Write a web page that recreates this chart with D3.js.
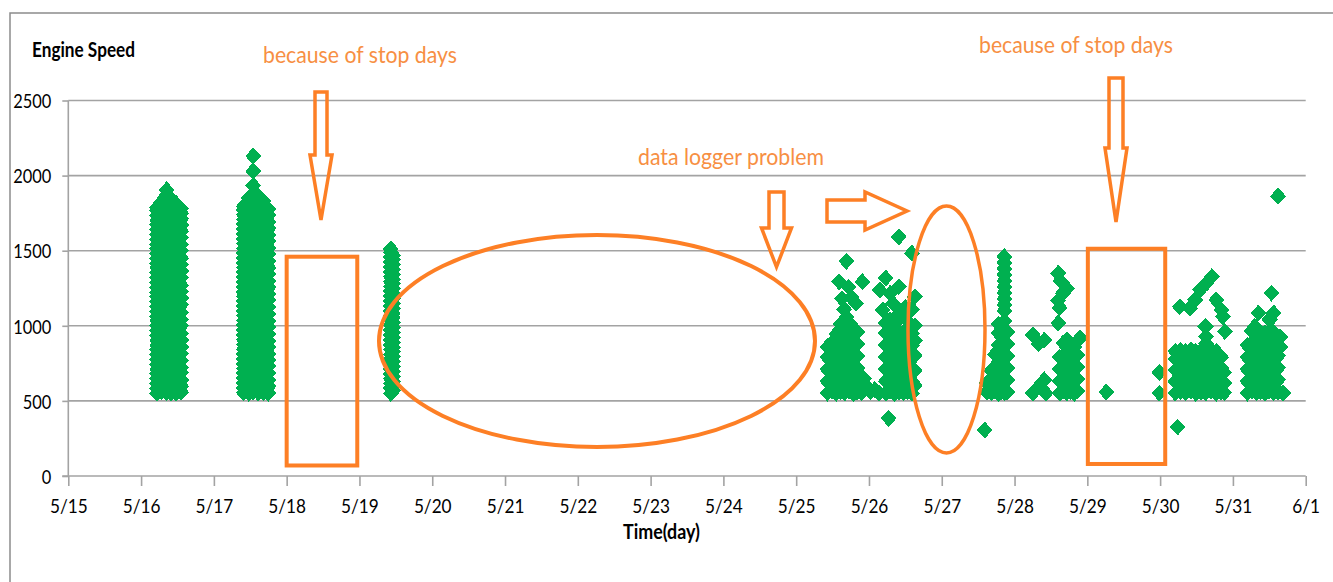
<!DOCTYPE html>
<html><head><meta charset="utf-8">
<script src="https://cdn.jsdelivr.net/npm/d3@7"></script>
<style>body{margin:0;background:#fff} svg{display:block}</style>
</head><body><svg id="c" width="1333" height="582"></svg>
<script>
// ---------- axis ticks ----------
const dayTicks = [15,16,17,18,19,20,21,22,23,24,25,26,27,28,29,30,31,32];
const dayTickLabels = ["5/15","5/16","5/17","5/18","5/19","5/20","5/21","5/22","5/23","5/24","5/25","5/26","5/27","5/28","5/29","5/30","5/31","6/1"];
const speedTicks = [0,500,1000,1500,2000,2500];

// ---------- engine speed readings (day of May, rpm) ----------
const may16Times = [16.22, 16.28, 16.35, 16.41, 16.48, 16.55];
const may16Speeds = [
 [552,585,616,649,680,712,745,776,808,841,872,905,936,968,1001,1032,1064,1097,1128,1160,1193,1224,1256,1289,1320,1352,1385,1416,1448,1481,1512,1544,1577,1608,1640,1673,1704,1736,1768,1790],
 [560,630,690,748,812,870,932,990,1050,1112,1170,1231,1290,1350,1410,1468,1530,1590,1648,1705,1768,1826],
 [555,615,680,740,800,860,921,985,1045,1103,1166,1225,1285,1345,1404,1466,1525,1586,1645,1708,1770,1830,1872,1905],
 [551,620,684,742,806,866,927,990,1052,1110,1172,1236,1296,1357,1418,1478,1540,1600,1662,1722,1782,1845],
 [553,612,676,738,795,857,918,980,1038,1099,1160,1222,1281,1343,1402,1462,1523,1584,1643,1700,1760,1815],
 [558,598,640,690,722,770,815,858,905,948,1000,1043,1090,1140,1185,1228,1270,1322,1365,1408,1450,1502,1540,1588,1630,1672,1712,1750,1780]
];
const may17Times = [17.41, 17.48, 17.54, 17.61, 17.68, 17.75];
const may17Speeds = [
 [555,588,620,651,684,716,747,780,812,843,876,908,939,972,1004,1035,1068,1100,1131,1164,1196,1227,1260,1292,1323,1356,1388,1419,1452,1484,1515,1548,1580,1611,1644,1676,1707,1740,1770,1795],
 [550,612,676,738,800,862,925,988,1050,1112,1175,1237,1300,1362,1424,1486,1548,1610,1672,1735,1796,1850],
 [560,622,684,746,808,870,932,994,1056,1118,1180,1242,1304,1366,1428,1490,1552,1614,1676,1738,1800,1860,1935,2030,2130],
 [553,615,678,740,802,864,926,988,1050,1112,1174,1236,1298,1360,1422,1484,1546,1608,1670,1732,1794,1862],
 [557,620,682,744,806,868,930,992,1054,1116,1178,1240,1302,1364,1426,1488,1550,1612,1674,1736,1796,1830],
 [552,596,640,684,730,772,815,858,900,946,990,1034,1080,1126,1170,1212,1255,1300,1345,1388,1430,1476,1520,1562,1605,1648,1690,1735,1775]
];
const may19Times = [19.43, 19.46];
const may19Speeds = [
 [550,584,615,648,680,712,745,777,809,842,874,906,939,971,1003,1036,1068,1100,1133,1165,1197,1230,1262,1294,1327,1359,1391,1424,1456,1488,1512],
 [568,600,632,664,697,729,761,794,826,858,891,923,955,988,1020,1052,1085,1117,1149,1182,1214,1246,1279,1311,1343,1376,1408,1440,1470]
];
const may25Times = [25.43, 25.49, 25.55, 25.61, 25.67, 25.73, 25.79, 25.84];
const may25Speeds = [
 [552,630,710,790,860],
 [565,645,725,805,885],
 [550,625,705,785,865,945],
 [560,640,720,800,880,960,1010],
 [555,635,715,795,875,955],
 [565,645,725,805,885,965,1020],
 [550,630,710,790,870,950],
 [560,640,720,800,880,960]
];
const may26Times = [26.23, 26.29, 26.35, 26.41, 26.47, 26.53, 26.59, 26.63];
const may26Speeds = [
 [552,630,710,790,870,950,1020,1318],
 [565,645,725,805,885,965,1040,1216],
 [550,625,705,785,865,945,1010],
 [560,640,720,800,880,960,1082,1260,1592],
 [555,635,715,795,875,955],
 [565,645,725,805,885,965,1030],
 [550,630,710,790,870,950,1110,1483],
 [600,700,800,900,1000,1193]
];
const may27Times = [27.62, 27.68, 27.73, 27.78, 27.82, 27.86, 27.90];
const may27Speeds = [
 [560,620],
 [555,640,700],
 [565,650,730,810],
 [550,630,710,790,870,950,1010],
 [565,645,725,805,885,965],
 [555,635,715,795,875,955,1030,1100,1140,1180,1220,1260,1300,1340,1380,1420,1460],
 [560,640,720,800,880,960]
];
const may28Times = [28.62, 28.67, 28.72, 28.77, 28.82, 28.86];
const may28Speeds = [
 [552,630,710,790],
 [565,645,725,805,885],
 [555,635,715,795,875,905],
 [560,640,720,800,880],
 [550,630,710,790,860],
 [565,645,725,805]
];
const may30Times = [30.21, 30.28, 30.35, 30.42, 30.49, 30.56, 30.63, 30.70, 30.77, 30.84, 30.88];
const may30Speeds = [
 [552,630,705,780,830],
 [560,640,715,790,835],
 [555,625,700,775,830],
 [565,645,720,795,840],
 [550,630,705,785,830],
 [560,635,715,790,835],
 [555,640,720,800,830,880,930,995],
 [565,630,710,785,840],
 [550,625,700,780,830],
 [560,640,720,790],
 [555,620,690]
];
const may31Times = [31.20, 31.26, 31.32, 31.38, 31.44, 31.50, 31.56, 31.62];
const may31Speeds = [
 [552,630,710,790,870],
 [565,645,725,805,885,965],
 [555,635,715,795,875,955],
 [560,640,720,800,880],
 [550,630,710,790,870,950],
 [565,645,725,805,885,965,1040],
 [555,635,715,795,875,955,1085],
 [560,640,720,800]
];
const scatterReadings = [
 [25.69,1430],[25.59,1293],[25.72,1258],[25.91,1293],[25.82,1150],[25.69,1060],[25.66,1110],[25.76,1190],[25.63,1180],
 [25.90,555],[25.96,600],[26.02,560],[26.08,575],[26.14,552],[25.93,650],
 [26.15,1238],[26.19,1105],[26.27,384],[26.33,1150],[26.50,1120],
 [27.59,306],
 [28.25,940],[28.41,905],[28.33,880],[28.25,552],[28.41,640],[28.43,552],[28.34,600],
 [28.60,1350],[28.63,1300],[28.72,1250],[28.66,1215],[28.60,1170],[28.62,1120],[28.60,1018],[28.90,918],
 [29.26,559],[29.99,690],[29.99,552],[30.24,326],
 [30.27,1127],[30.41,1118],[30.48,1172],[30.55,1240],[30.64,1285],[30.71,1327],[30.77,1172],[30.84,1105],[30.86,1062],[30.89,962],[30.62,995],
 [31.53,1218],[31.35,1085],[31.51,1040],[31.30,995],[31.65,925],[31.65,860],[31.69,552],[31.62,1863]
];

// ---------- build ----------
function binsToPoints(times, speeds){ return times.flatMap((t,i)=>speeds[i].map(v=>[t,v])); }
const points = [].concat(
  binsToPoints(may16Times, may16Speeds),
  binsToPoints(may17Times, may17Speeds),
  binsToPoints(may19Times, may19Speeds),
  binsToPoints(may25Times, may25Speeds),
  binsToPoints(may26Times, may26Speeds),
  binsToPoints(may27Times, may27Speeds),
  binsToPoints(may28Times, may28Speeds),
  binsToPoints(may30Times, may30Speeds),
  binsToPoints(may31Times, may31Speeds),
  scatterReadings
);

const svg = d3.select("#c");
const x = d3.scaleLinear().domain([15,32]).range([68.3,1305.7]);
const y = d3.scaleLinear().domain([0,2500]).range([476,100.5]);
const FONT = "Lato, 'Open Sans', sans-serif";
const GRID = "#a3a3a3";
const ORANGE = "#fd7f25";
const ORANGE_TXT = "#f78f43";
const GREEN = "#00b050";

function squeeze(sel, f){ sel.each(function(){ const L=this.getComputedTextLength(); d3.select(this).attr("textLength",L*f).attr("lengthAdjust","spacingAndGlyphs"); }); }
function fitTo(sel, w){ sel.attr("textLength",w).attr("lengthAdjust","spacingAndGlyphs"); }

// chart frame
svg.append("path").attr("d","M10,590V13H1340").attr("fill","none").attr("stroke","#8c8c8c").attr("stroke-width",1.5);

// gridlines
svg.append("g").selectAll("line").data(speedTicks.filter(d=>d>0)).join("line")
  .attr("x1",x(15)).attr("x2",x(32)).attr("y1",d=>y(d)).attr("y2",d=>y(d))
  .attr("stroke",GRID).attr("stroke-width",1.6);

// y axis
const yAxis = svg.append("g").attr("transform",`translate(${x(15)},0)`)
  .call(d3.axisLeft(y).tickValues(speedTicks).tickSize(6).tickPadding(11).tickFormat(d3.format("d")));
yAxis.select(".domain").attr("stroke",GRID).attr("stroke-width",1.6).attr("d",`M0,${y(0)}V${y(2500)}`);
yAxis.selectAll(".tick line").attr("stroke",GRID).attr("stroke-width",1.6);
yAxis.selectAll("text").attr("font-family",FONT).attr("font-size",20).attr("fill","#000").attr("dy","0.36em");
squeeze(yAxis.selectAll("text"),0.82);

// x axis
const xAxis = svg.append("g").attr("transform",`translate(0,${y(0)})`)
  .call(d3.axisBottom(x).tickValues(dayTicks).tickSize(10).tickPadding(13).tickFormat((d,i)=>dayTickLabels[i]));
xAxis.select(".domain").attr("stroke",GRID).attr("stroke-width",1.6).attr("d",`M${x(15)-6},0H${x(32)}`);
xAxis.selectAll(".tick line").attr("stroke",GRID).attr("stroke-width",1.6);
xAxis.selectAll("text").attr("font-family",FONT).attr("font-size",20).attr("fill","#000");
squeeze(xAxis.selectAll("text"),0.86);

// titles
const t1 = svg.append("text").attr("x",32).attr("y",57).attr("font-family",FONT).attr("font-weight","bold").attr("font-size",21).attr("fill","#000").text("Engine Speed");
fitTo(t1,103);
const t2 = svg.append("text").attr("x",623).attr("y",539).attr("font-family",FONT).attr("font-weight","bold").attr("font-size",20).attr("fill","#000").text("Time(day)");
fitTo(t2,77);

// points
const diamond = "M0,-8.5L8,0L0,8.5L-8,0Z";
svg.append("g").attr("shape-rendering","crispEdges").selectAll("path").data(points).join("path")
  .attr("d",diamond).attr("transform",d=>`translate(${x(d[0])},${y(d[1])})`)
  .attr("fill",GREEN);

// ---------- annotations ----------
const ann = svg.append("g").attr("fill","none").attr("stroke",ORANGE);
// rectangles (stop days)
[[18.0,18.97,1460,70],[29.007,30.07,1513,80]].forEach(([d0,d1,v0,v1])=>{
  ann.append("rect").attr("x",x(d0)).attr("y",y(v0)).attr("width",x(d1)-x(d0)).attr("height",y(v1)-y(v0)).attr("stroke-width",4);
});
// ellipses
ann.append("ellipse").attr("cx",597).attr("cy",341).attr("rx",218).attr("ry",106).attr("stroke-width",4);
ann.append("ellipse").attr("cx",946.5).attr("cy",329.5).attr("rx",38.5).attr("ry",123.5).attr("stroke-width",3.5);
// down arrows
function downArrow(cx, top, headY, tip, sw, hw){
  return `M${cx-sw},${top}H${cx+sw}V${headY}H${cx+hw}L${cx},${tip}L${cx-hw},${headY}H${cx-sw}Z`;
}
ann.append("path").attr("d",downArrow(321,92,155,220,6,11)).attr("stroke-width",3.5);
ann.append("path").attr("d",downArrow(776.5,192,228,267,7.5,15)).attr("stroke-width",3.5);
ann.append("path").attr("d",downArrow(1116,78,148,222,7,11)).attr("stroke-width",3.5);
// right arrow
ann.append("path").attr("d","M827,200H865V192L907,211L865,230V222H827Z").attr("stroke-width",3.5);

// annotation texts
const notes = [
  {t:"because of stop days", x:263, y:63, w:194},
  {t:"because of stop days", x:979, y:53, w:194},
  {t:"data logger problem", x:638, y:165, w:186}
];
notes.forEach(n=>{
  const tx = svg.append("text").attr("x",n.x).attr("y",n.y).attr("font-family",FONT).attr("font-size",23).attr("fill",ORANGE_TXT).text(n.t);
  fitTo(tx,n.w);
});
</script></body></html>
